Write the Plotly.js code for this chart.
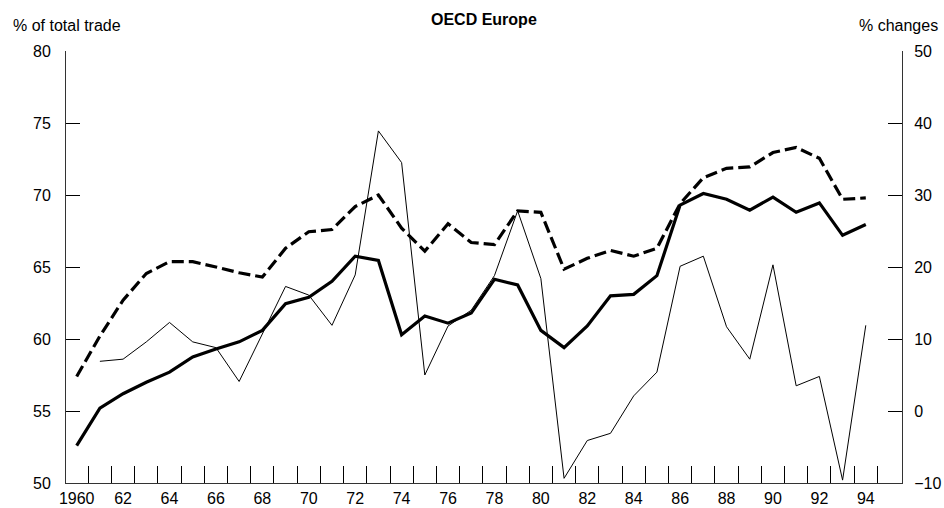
<!DOCTYPE html>
<html>
<head>
<meta charset="utf-8">
<script src="https://cdn.plot.ly/plotly-3.0.1.min.js"></script>
<style>
html,body{margin:0;padding:0;background:#fff;}
#chart{width:944px;height:508px;}
</style>
</head>
<body>
<div id="chart"></div>
<script>
// Years 1960-1994
const years = [1960,1961,1962,1963,1964,1965,1966,1967,1968,1969,
               1970,1971,1972,1973,1974,1975,1976,1977,1978,1979,
               1980,1981,1982,1983,1984,1985,1986,1987,1988,1989,
               1990,1991,1992,1993,1994];

// Thick solid line (left axis, % of total trade)
const solidSeries = [52.6,55.2,56.2,57.0,57.7,58.75,59.3,59.8,60.6,62.45,
                     62.9,64.0,65.75,65.45,60.3,61.6,61.1,61.8,64.15,63.75,
                     60.6,59.4,60.9,63.0,63.1,64.4,69.3,70.1,69.7,68.95,
                     69.85,68.8,69.45,67.2,67.95];

// Thick dashed line (left axis, % of total trade)
const dashedSeries = [57.4,60.2,62.7,64.55,65.37,65.37,65.0,64.6,64.3,66.3,
                      67.45,67.6,69.2,70.0,67.7,66.1,68.0,66.7,66.55,68.9,
                      68.8,64.85,65.6,66.15,65.75,66.3,69.4,71.2,71.85,71.95,
                      72.95,73.3,72.55,69.7,69.8];

// Thin line (right axis, % changes), starts 1961
const thinYears = years.slice(1);
const thinSeries = [6.9,7.2,9.6,12.3,9.6,8.8,4.1,10.6,17.3,
                    16.1,11.9,18.9,38.9,34.5,5.0,11.8,14.0,18.8,27.8,
                    18.4,-9.35,-4.1,-3.1,2.1,5.4,20.1,21.5,11.7,7.2,
                    20.3,3.5,4.8,-9.6,11.9];

// Tick labels
const labelYears = [1960,1962,1964,1966,1968,1970,1972,1974,1976,1978,
                    1980,1982,1984,1986,1988,1990,1992,1994];
const labelText = ['1960','62','64','66','68','70','72','74','76','78',
                   '80','82','84','86','88','90','92','94'];
const leftTicks = [50,55,60,65,70,75,80];
const rightTicks = [-10,0,10,20,30,40,50];

const chartTitle = 'OECD Europe';
const leftTitle = '% of total trade';
const rightTitle = '% changes';

const xRange = [1959.54, 1995.56];
const boundaryTicks = years.map(y => y + 0.5);

const FONT = 'Liberation Sans, Arial, Helvetica, sans-serif';

const traces = [
  {x: years, y: solidSeries, type: 'scatter', mode: 'lines',
   line: {color: '#000', width: 3.2}, xaxis: 'x', yaxis: 'y', hoverinfo: 'skip'},
  {x: years, y: dashedSeries, type: 'scatter', mode: 'lines',
   line: {color: '#000', width: 3.2, dash: '12px,5px'}, xaxis: 'x', yaxis: 'y', hoverinfo: 'skip'},
  {x: thinYears, y: thinSeries, type: 'scatter', mode: 'lines',
   line: {color: '#000', width: 1}, xaxis: 'x2', yaxis: 'y2', hoverinfo: 'skip'}
];

const layout = {
  width: 944, height: 508,
  margin: {l: 66, r: 42, t: 51, b: 25, pad: 0},
  paper_bgcolor: '#fff', plot_bgcolor: '#fff',
  showlegend: false,
  font: {family: FONT, size: 16, color: '#000'},
  xaxis: {
    range: xRange, tickmode: 'array', tickvals: boundaryTicks,
    ticks: 'inside', ticklen: 17, tickwidth: 1, tickcolor: '#000',
    showticklabels: false, showline: true, linecolor: '#333', linewidth: 1,
    showgrid: false, zeroline: false, fixedrange: true
  },
  xaxis2: {
    overlaying: 'x', anchor: 'y2', side: 'bottom',
    range: xRange, tickmode: 'array', tickvals: labelYears, ticktext: labelText,
    ticks: '', showline: false, showgrid: false, zeroline: false,
    tickfont: {family: FONT, size: 16, color: '#000'}, ticklabelstandoff: 4,
    fixedrange: true
  },
  yaxis: {
    range: [50, 80], tickmode: 'array', tickvals: leftTicks,
    ticks: 'inside', ticklen: 14, tickwidth: 1, tickcolor: '#000',
    showline: true, linecolor: '#333', linewidth: 1,
    showgrid: false, zeroline: false,
    tickfont: {family: FONT, size: 16, color: '#000'}, ticklabelstandoff: 11,
    fixedrange: true
  },
  yaxis2: {
    overlaying: 'y', side: 'right', anchor: 'x2',
    range: [-10, 50], tickmode: 'array', tickvals: rightTicks,
    ticks: 'inside', ticklen: 14, tickwidth: 1, tickcolor: '#000',
    showline: true, linecolor: '#333', linewidth: 1,
    showgrid: false, zeroline: false,
    tickfont: {family: FONT, size: 16, color: '#000'}, ticklabelstandoff: 8,
    fixedrange: true
  },
  annotations: [
    {text: '<b>' + chartTitle + '</b>', xref: 'paper', yref: 'paper',
     x: 0.5, y: 1, xanchor: 'center', yanchor: 'bottom', yshift: 21,
     showarrow: false, font: {family: FONT, size: 16, color: '#000'}},
    {text: leftTitle, xref: 'paper', yref: 'paper', x: 0, y: 1,
     xanchor: 'left', yanchor: 'bottom', xshift: -55, yshift: 15,
     showarrow: false, font: {family: FONT, size: 16, color: '#000'}},
    {text: rightTitle, xref: 'paper', yref: 'paper', x: 1, y: 1,
     xanchor: 'right', yanchor: 'bottom', xshift: 38, yshift: 15,
     showarrow: false, font: {family: FONT, size: 16, color: '#000'}}
  ]
};

Plotly.newPlot('chart', traces, layout, {displayModeBar: false, staticPlot: true});
</script>
</body>
</html>
